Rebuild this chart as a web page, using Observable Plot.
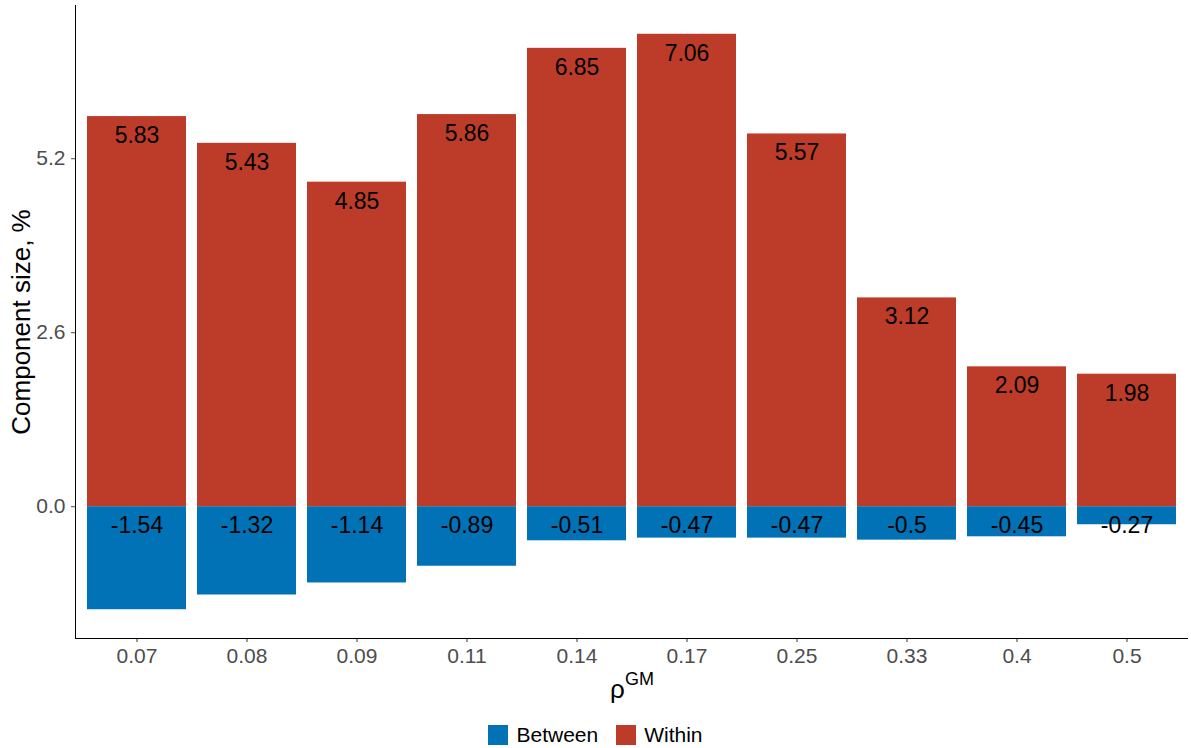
<!DOCTYPE html>
<html><head><meta charset="utf-8">
<script src="https://cdn.jsdelivr.net/npm/d3@7"></script>
<script src="https://cdn.jsdelivr.net/npm/@observablehq/plot@0.6"></script>
<style>body{margin:0;background:#fff;font-family:Arial,"Liberation Sans",sans-serif}
#leg{display:flex;justify-content:center;gap:18px;font-size:21px;color:#000;margin-top:13px}
#leg span{display:inline-flex;align-items:center;gap:8px}
#leg i{display:inline-block;width:20px;height:20px}
</style>
</head><body><div id="c"></div>
<div id="leg"><span><i style="background:#0072B5"></i>Between</span><span><i style="background:#BC3C29"></i>Within</span></div>
<script>
const categories=["0.07","0.08","0.09","0.11","0.14","0.17","0.25","0.33","0.4","0.5"];
const within=[5.83,5.43,4.85,5.86,6.85,7.06,5.57,3.12,2.09,1.98];
const between=[-1.54,-1.32,-1.14,-0.89,-0.51,-0.47,-0.47,-0.5,-0.45,-0.27];
const yTicks=[0,2.6,5.2];
const data=[];
categories.forEach((c,i)=>{data.push({c,v:between[i],comp:"Between"});data.push({c,v:within[i],comp:"Within"});});
const chart=Plot.plot({
  width:1191,height:710,marginTop:5,marginBottom:72,marginLeft:75,marginRight:4,
  style:{fontFamily:"Arial, Liberation Sans, sans-serif",fontSize:"20px",color:"#4d4d4d",overflow:"visible"},
  x:{domain:categories,padding:0.1,label:null},
  y:{domain:[-1.97,7.49],label:null},
  color:{domain:["Between","Within"],range:["#0072B5","#BC3C29"]},
  marks:[
    Plot.barY(data,{x:"c",y1:0,y2:"v",fill:"comp"}),
    Plot.text(data,{x:"c",y:d=>Math.max(d.v,0),text:d=>String(d.v),dy:19,fill:"#000",fontSize:23,className:"barlab"}),
    Plot.axisX({tickSize:4,label:null,stroke:"#333",fill:"#4d4d4d",tickPadding:6}),
    Plot.axisY({ticks:yTicks,tickFormat:d=>d.toFixed(1),tickSize:4,label:null,fill:"#4d4d4d",tickPadding:6}),
    Plot.frame({anchor:"left",stroke:"#000"}),
    Plot.frame({anchor:"bottom",stroke:"#000"})
  ]
});
const svg=d3.select(chart);
svg.selectAll("text").style("font-size","21px");
svg.selectAll(".barlab text, text.barlab").style("font-size","23px");
svg.append("text").attr("transform","translate(30,322) rotate(-90)").attr("text-anchor","middle")
  .style("font-size","26px").attr("fill","#000").text("Component size, %");
const t=svg.append("text").attr("x",632).attr("y",698).attr("text-anchor","middle").style("font-size","26px").attr("fill","#000");
t.append("tspan").text("ρ");
t.append("tspan").attr("dy",-13).style("font-size","18px").text("GM");
document.getElementById("c").appendChild(chart);
</script></body></html>
